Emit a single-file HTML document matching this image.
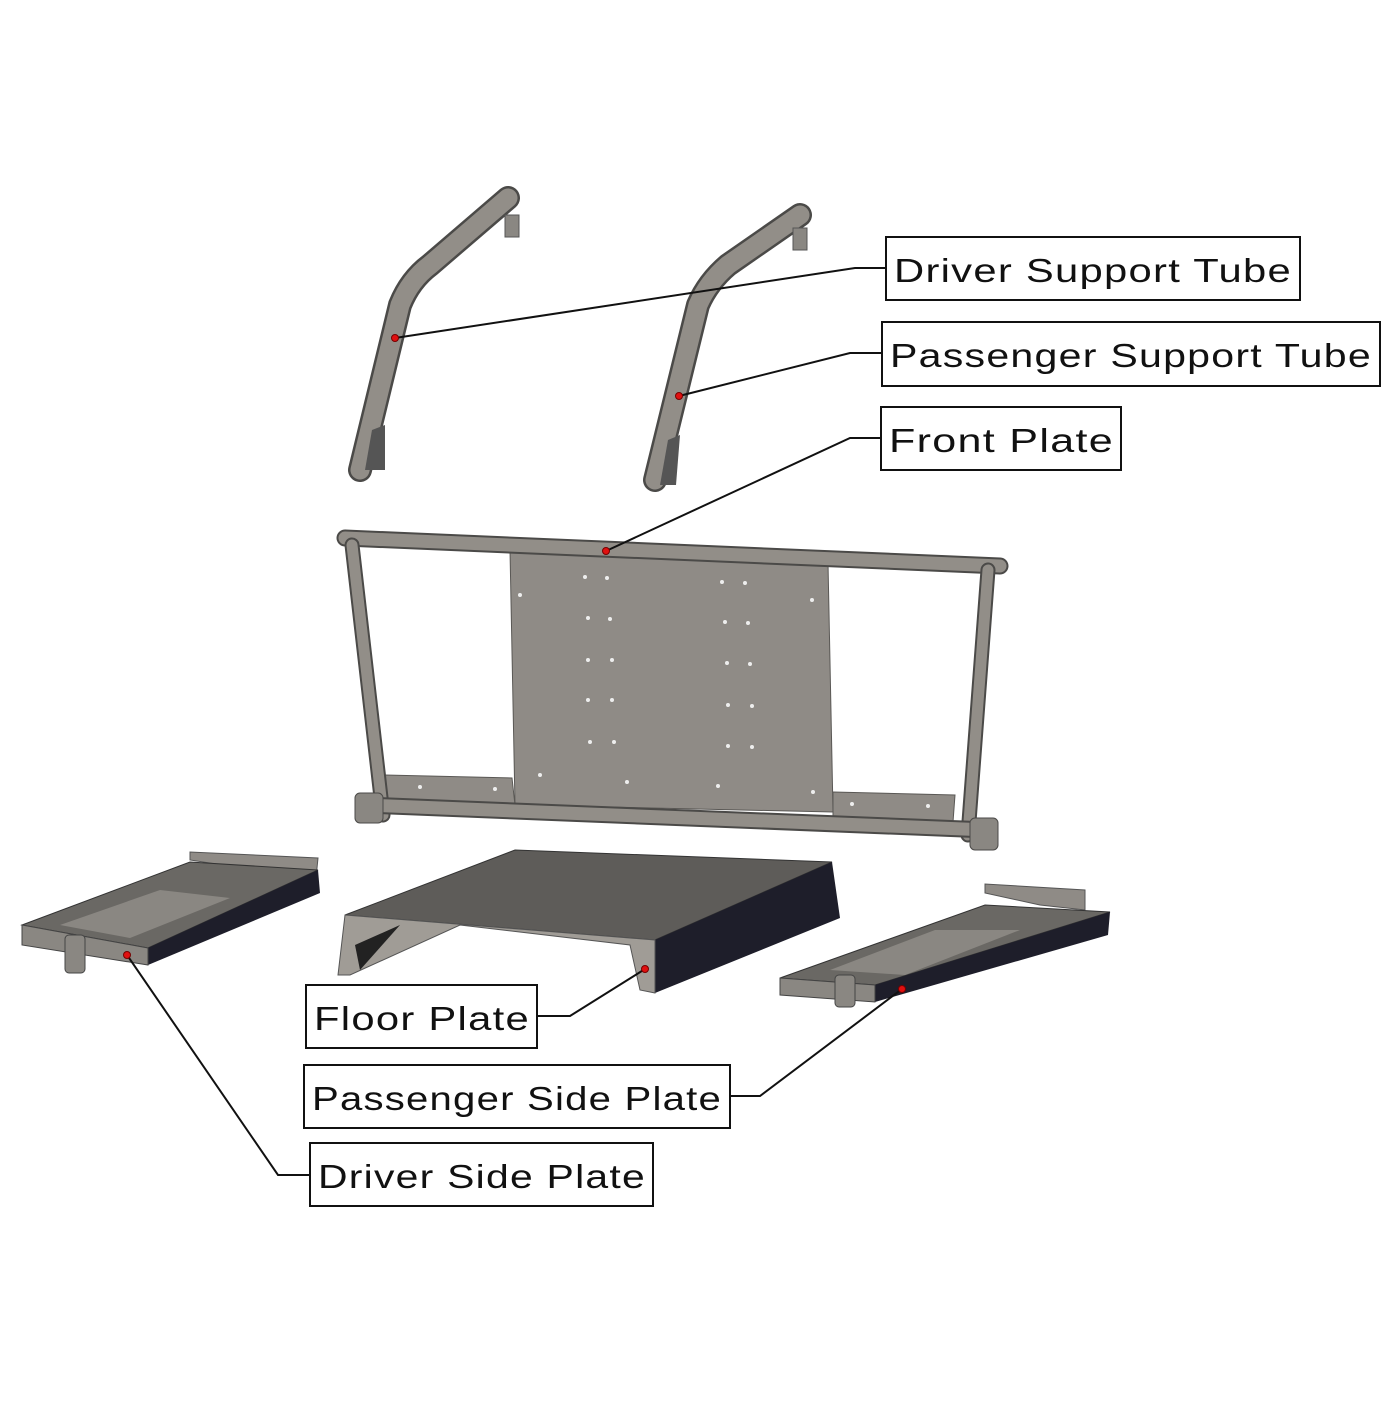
<!DOCTYPE html>
<html><head><style>
body{margin:0;background:#fff;width:1400px;height:1400px;overflow:hidden}
text{font-family:"Liberation Sans",sans-serif;font-size:33px;fill:#111;letter-spacing:1px}
</style></head><body>
<svg width="1400" height="1400" viewBox="0 0 1400 1400" xmlns="http://www.w3.org/2000/svg">
<g fill="none" stroke-linecap="round" stroke-linejoin="round">
<!-- support tubes -->
<path d="M360,470 L400,305 Q410,280 430,265 L508,198" stroke="#4b4a48" stroke-width="24"/>
<path d="M360,470 L400,305 Q410,280 430,265 L508,198" stroke="#928e88" stroke-width="19"/>
<path d="M655,480 L698,305 Q708,282 728,265 L800,215" stroke="#4b4a48" stroke-width="24"/>
<path d="M655,480 L698,305 Q708,282 728,265 L800,215" stroke="#928e88" stroke-width="19"/>
</g>
<polygon points="372,430 385,425 385,470 365,470" fill="#555"/>
<polygon points="668,440 680,435 676,485 660,485" fill="#555"/>
<rect x="505" y="215" width="14" height="22" fill="#8a8782" stroke="#555"/>
<rect x="793" y="228" width="14" height="22" fill="#8a8782" stroke="#555"/>
<!-- front frame plate -->
<polygon points="510,550 828,563 833,812 515,805" fill="#8f8b86" stroke="#5a5855"/>
<polygon points="385,775 512,778 515,805 388,803" fill="#8f8b86" stroke="#5a5855"/>
<polygon points="833,792 955,795 953,822 833,818" fill="#8f8b86" stroke="#5a5855"/>
<g fill="#eee">
<circle cx="585" cy="577" r="2"/><circle cx="607" cy="578" r="2"/><circle cx="722" cy="582" r="2"/><circle cx="745" cy="583" r="2"/>
<circle cx="520" cy="595" r="2"/><circle cx="812" cy="600" r="2"/><circle cx="588" cy="618" r="2"/><circle cx="610" cy="619" r="2"/>
<circle cx="725" cy="622" r="2"/><circle cx="748" cy="623" r="2"/><circle cx="588" cy="660" r="2"/><circle cx="612" cy="660" r="2"/>
<circle cx="727" cy="663" r="2"/><circle cx="750" cy="664" r="2"/><circle cx="588" cy="700" r="2"/><circle cx="612" cy="700" r="2"/>
<circle cx="728" cy="705" r="2"/><circle cx="752" cy="706" r="2"/><circle cx="590" cy="742" r="2"/><circle cx="614" cy="742" r="2"/>
<circle cx="728" cy="746" r="2"/><circle cx="752" cy="747" r="2"/><circle cx="540" cy="775" r="2"/><circle cx="627" cy="782" r="2"/>
<circle cx="718" cy="786" r="2"/><circle cx="813" cy="792" r="2"/><circle cx="420" cy="787" r="2"/><circle cx="495" cy="789" r="2"/>
<circle cx="852" cy="804" r="2"/><circle cx="928" cy="806" r="2"/>
</g>
<g fill="none" stroke-linecap="round">
<path d="M345,538 L1000,566" stroke="#4b4a48" stroke-width="17"/>
<path d="M345,538 L1000,566" stroke="#928e88" stroke-width="13"/>
<path d="M352,545 L383,815" stroke="#4b4a48" stroke-width="15"/>
<path d="M352,545 L383,815" stroke="#928e88" stroke-width="11"/>
<path d="M988,570 L968,835" stroke="#4b4a48" stroke-width="15"/>
<path d="M988,570 L968,835" stroke="#928e88" stroke-width="11"/>
<path d="M365,805 L988,830" stroke="#4b4a48" stroke-width="17"/>
<path d="M365,805 L988,830" stroke="#928e88" stroke-width="13"/>
</g>
<rect x="355" y="793" width="28" height="30" rx="5" fill="#8a8782" stroke="#4b4a48"/>
<rect x="970" y="818" width="28" height="32" rx="5" fill="#8a8782" stroke="#4b4a48"/>
<!-- floor plate -->
<polygon points="345,915 515,850 832,862 655,940" fill="#5e5c59" stroke="#333"/>
<polygon points="655,940 832,862 840,918 655,993" fill="#1e1e2a"/>
<polygon points="345,915 655,940 655,993 640,990 630,945 460,925 350,975 338,975" fill="#a09c96" stroke="#555"/>
<polygon points="355,945 400,925 360,970" fill="#222"/>
<!-- driver side plate -->
<polygon points="190,860 190,852 318,858 316,878 255,870" fill="#8f8b86" stroke="#555"/>
<polygon points="22,925 190,862 318,870 148,948" fill="#6a6864" stroke="#333"/>
<polygon points="60,925 160,890 230,898 130,938" fill="#8a8782"/>
<polygon points="148,948 318,870 320,893 148,965" fill="#1e1e2a"/>
<polygon points="22,925 148,948 148,965 22,945" fill="#8a8782" stroke="#444"/>
<rect x="65" y="935" width="20" height="38" rx="4" fill="#8a8782" stroke="#444"/>
<!-- passenger side plate -->
<polygon points="985,893 985,884 1085,890 1085,910 1040,905" fill="#8f8b86" stroke="#555"/>
<polygon points="780,978 985,905 1110,912 875,985" fill="#6a6864" stroke="#333"/>
<polygon points="830,970 935,930 1020,930 905,975" fill="#8a8782"/>
<polygon points="875,985 1110,912 1108,935 875,1002" fill="#1e1e2a"/>
<polygon points="780,978 875,985 875,1002 780,995" fill="#8a8782" stroke="#444"/>
<rect x="835" y="975" width="20" height="32" rx="4" fill="#8a8782" stroke="#444"/>
<!-- leaders -->
<g stroke="#111" stroke-width="2" fill="none">
<polyline points="395,338 855,268 886,268"/>
<polyline points="679,396 850,353 882,353"/>
<polyline points="606,551 850,438 881,438"/>
<polyline points="645,969 570,1016 537,1016"/>
<polyline points="902,989 760,1096 730,1096"/>
<polyline points="127,955 278,1175 310,1175"/>
</g>
<g fill="#e01010" stroke="#700" stroke-width="1">
<circle cx="395" cy="338" r="3.5"/><circle cx="679" cy="396" r="3.5"/><circle cx="606" cy="551" r="3.5"/>
<circle cx="645" cy="969" r="3.5"/><circle cx="902" cy="989" r="3.5"/><circle cx="127" cy="955" r="3.5"/>
</g>
<!-- labels -->
<g fill="#fff" stroke="#111" stroke-width="2">
<rect x="886" y="237" width="414" height="63"/>
<rect x="882" y="322" width="498" height="64"/>
<rect x="881" y="407" width="240" height="63"/>
<rect x="306" y="985" width="231" height="63"/>
<rect x="304" y="1065" width="426" height="63"/>
<rect x="310" y="1143" width="343" height="63"/>
</g>
<text x="894" y="282" textLength="398" lengthAdjust="spacingAndGlyphs">Driver Support Tube</text>
<text x="890" y="367" textLength="482" lengthAdjust="spacingAndGlyphs">Passenger Support Tube</text>
<text x="889" y="452" textLength="225" lengthAdjust="spacingAndGlyphs">Front Plate</text>
<text x="314" y="1030" textLength="216" lengthAdjust="spacingAndGlyphs">Floor Plate</text>
<text x="312" y="1110" textLength="410" lengthAdjust="spacingAndGlyphs">Passenger Side Plate</text>
<text x="318" y="1188" textLength="328" lengthAdjust="spacingAndGlyphs">Driver Side Plate</text>
</svg>
</body></html>
